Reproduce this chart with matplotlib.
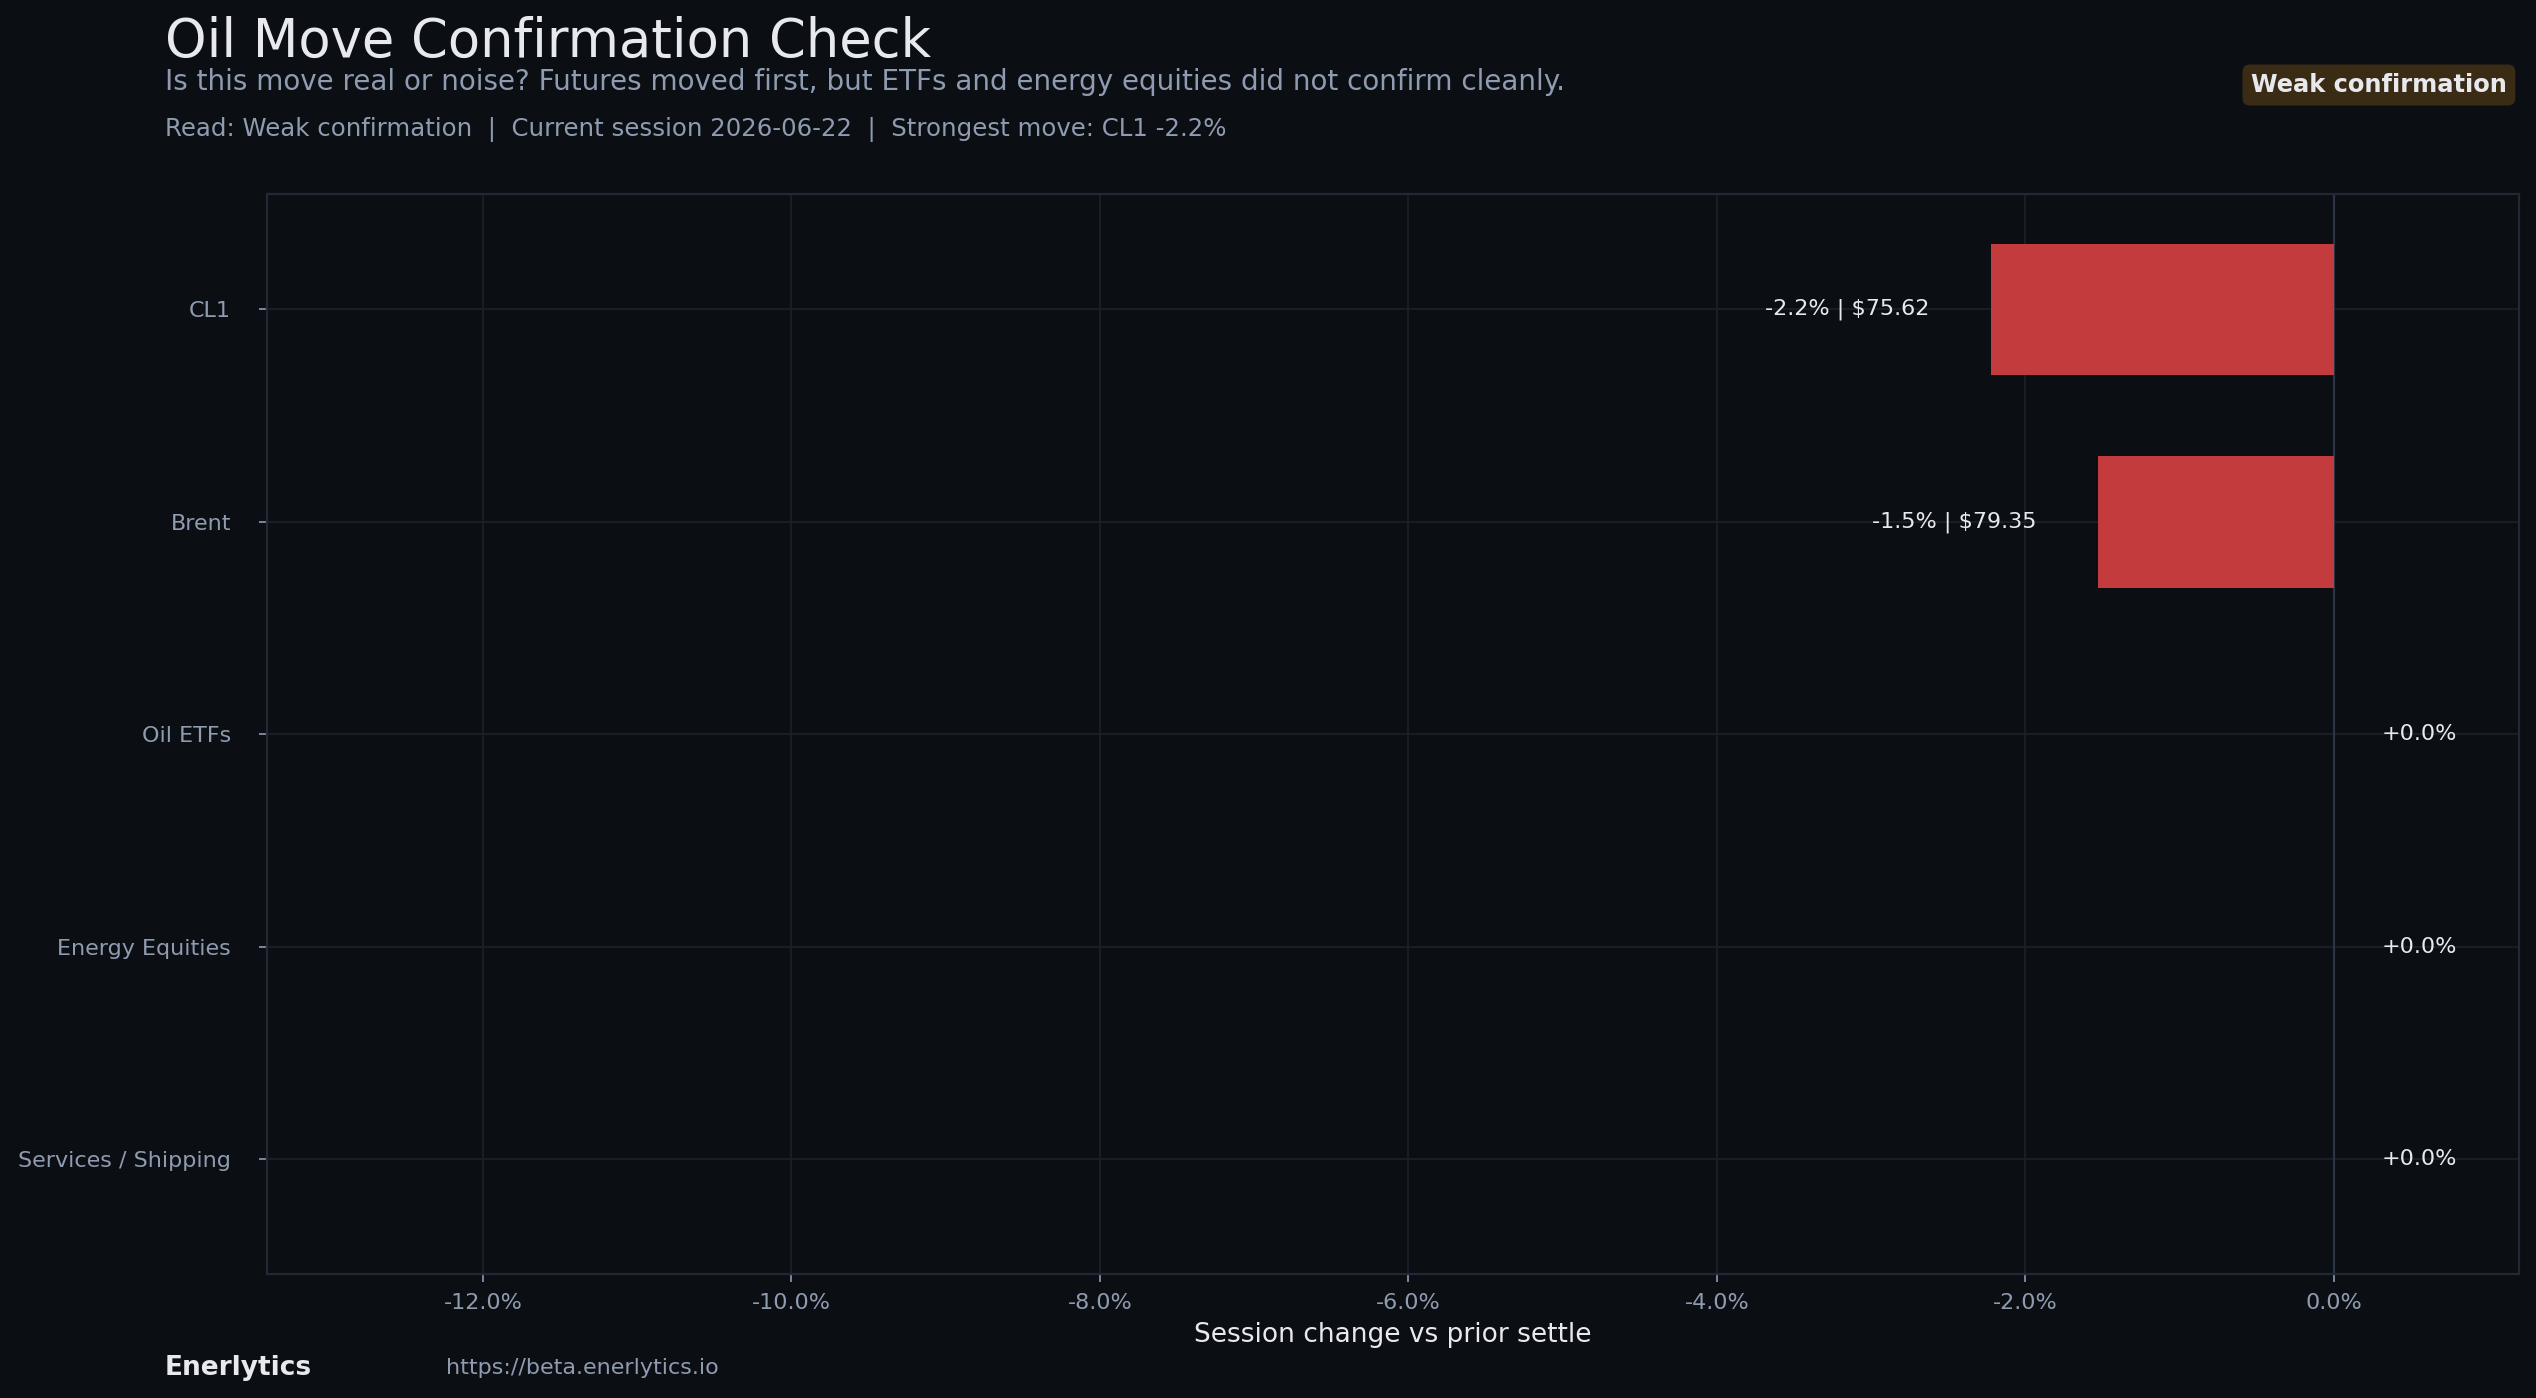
import matplotlib
matplotlib.use("Agg")
import matplotlib.pyplot as plt
from matplotlib.ticker import MultipleLocator, FuncFormatter

# ============================================================================
# Data
# ============================================================================

categories = ["CL1", "Brent", "Oil ETFs", "Energy Equities", "Services / Shipping"]
pct_change = [-2.22, -1.53, 0.0, 0.0, 0.0]
last_price = [75.62, 79.35, None, None, None]

title = "Oil Move Confirmation Check"
subtitle = "Is this move real or noise? Futures moved first, but ETFs and energy equities did not confirm cleanly."
read_line = "Read: Weak confirmation  |  Current session 2026-06-22  |  Strongest move: CL1 -2.2%"
badge = "Weak confirmation"
brand = "Enerlytics"
url = "https://beta.enerlytics.io"

# ============================================================================
# Colours
# ============================================================================

BG = "#0b0e13"
GRID = "#1b212a"
SPINE = "#212935"
ZERO = "#2b3442"
MUTED = "#8f9bb0"
TEXT = "#e8e9ee"
RED = "#c43b3e"
BADGE_BG = "#3a2b15"

plt.rcParams["font.family"] = ["DejaVu Sans"]

fig = plt.figure(figsize=(12.68, 6.99), dpi=200, facecolor=BG)
ax = fig.add_axes([0.1053, 0.0887, 0.888, 0.7722], facecolor=BG)

y = list(range(len(categories)))
ax.barh(y, pct_change, height=0.62, color=RED, zorder=3)

ax.set_xlim(-13.4, 1.2)
ax.invert_yaxis()
ax.set_yticks(y)
ax.set_yticklabels(categories)

ax.xaxis.set_major_locator(MultipleLocator(2))
ax.xaxis.set_major_formatter(FuncFormatter(lambda v, _: f"{v:.1f}%"))

ax.grid(True, color=GRID, linewidth=0.6, zorder=0)
ax.set_axisbelow(True)
ax.axvline(0, color=ZERO, linewidth=0.8, zorder=2)

for s in ax.spines.values():
    s.set_color(SPINE)
    s.set_linewidth(0.8)

ax.tick_params(axis="both", colors=MUTED, labelsize=8, length=3, width=0.6)
ax.tick_params(axis="y", pad=10)
ax.tick_params(axis="x", pad=4)

ax.set_xlabel("Session change vs prior settle", color=TEXT, fontsize=9.5, labelpad=3)

# value labels
for yi, v, p in zip(y, pct_change, last_price):
    label = f"{v:+.1f}%" if v >= 0 else f"{v:.1f}%"
    if p is not None:
        label += f" | ${p:.2f}"
    if v < 0:
        ax.text(v - 0.4, yi, label, ha="right", va="center", color=TEXT, fontsize=8)
    else:
        ax.text(v + 0.31, yi, label, ha="left", va="center", color=TEXT, fontsize=8)

# ============================================================================
# Header / footer
# ============================================================================

fig.text(0.065, 1 - 57 / 1398, title, color=TEXT, fontsize=19, va="baseline")
fig.text(0.065, 1 - 90 / 1398, subtitle, color=MUTED, fontsize=10, va="baseline")
fig.text(0.065, 1 - 136 / 1398, read_line, color=MUTED, fontsize=8.8, va="baseline")

fig.text(0.9885, 1 - 85 / 1398, badge, color=TEXT, fontsize=8.7, fontweight="bold",
         ha="right", va="center",
         bbox=dict(boxstyle="round,pad=0.35,rounding_size=0.3", facecolor=BADGE_BG, edgecolor="none"))

fig.text(0.065, 1 - 1368 / 1398, brand, color=TEXT, fontsize=9.5, fontweight="bold", va="center")
fig.text(0.176, 1 - 1368 / 1398, url, color=MUTED, fontsize=8, va="center")

fig.savefig("out.png", dpi=200, facecolor=BG)
